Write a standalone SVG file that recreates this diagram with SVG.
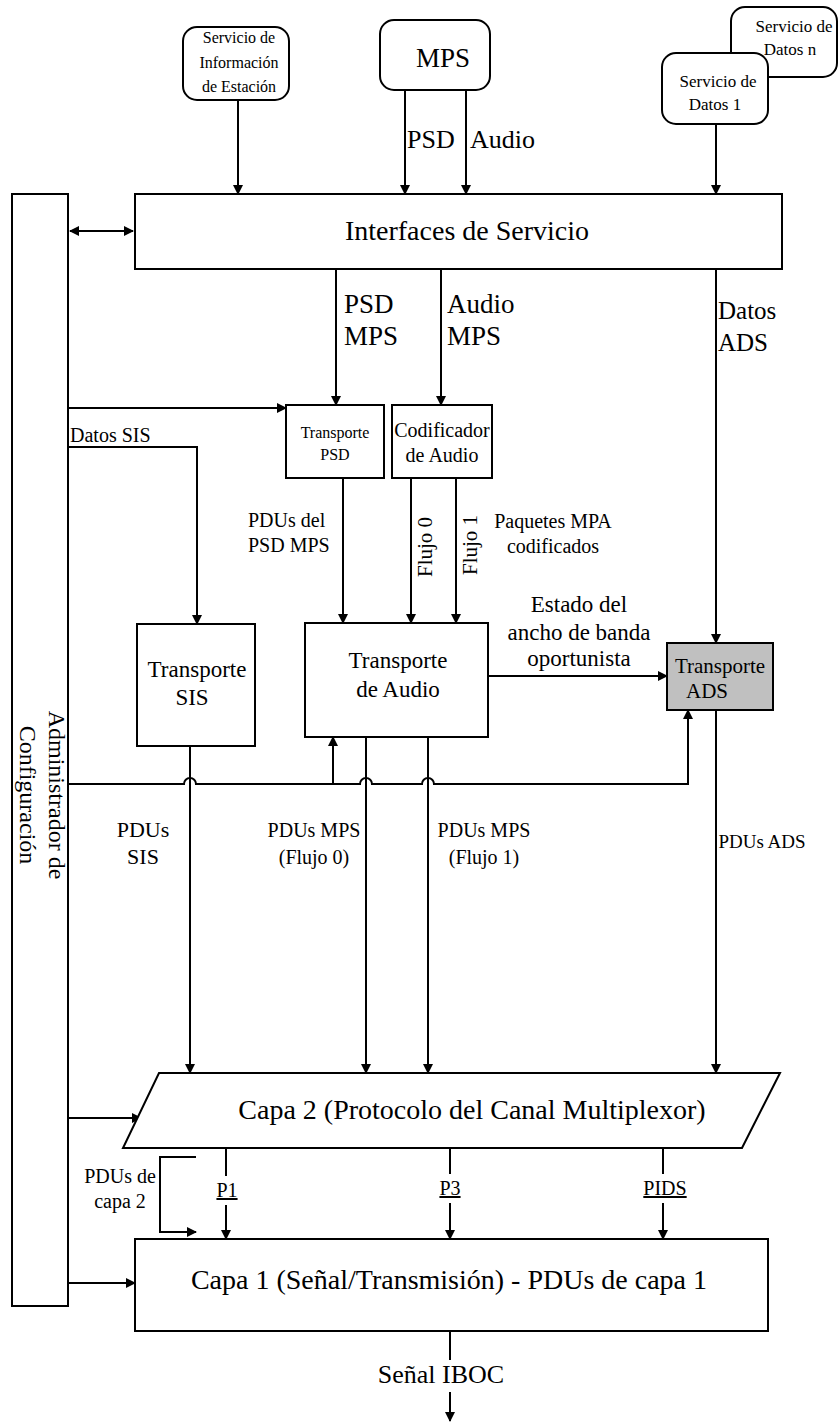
<svg xmlns="http://www.w3.org/2000/svg" width="839" height="1423" viewBox="0 0 839 1423">
<defs>
<marker id="ah" markerWidth="10" markerHeight="10" refX="9" refY="5" orient="auto" markerUnits="userSpaceOnUse"><path d="M0,0 L10,5 L0,10 z" fill="#000"/></marker>
<marker id="ahs" markerWidth="10" markerHeight="10" refX="1" refY="5" orient="auto" markerUnits="userSpaceOnUse"><path d="M10,0 L0,5 L10,10 z" fill="#000"/></marker>
</defs>
<style>
text{font-family:"Liberation Serif","DejaVu Serif",serif;fill:#000}
.box{fill:#fff;stroke:#000;stroke-width:2}
.ln{fill:none;stroke:#000;stroke-width:2}
.ar{fill:none;stroke:#000;stroke-width:2;marker-end:url(#ah)}
.c{text-anchor:middle}
</style>
<rect width="839" height="1423" fill="#fff"/>

<g id="connectors">
<line class="ar" x1="238" y1="100" x2="238" y2="194"/>
<line class="ar" x1="405" y1="90" x2="405" y2="194"/>
<line class="ar" x1="466" y1="90" x2="466" y2="194"/>
<line class="ar" x1="716" y1="124" x2="716" y2="194"/>
<line x1="70" y1="231" x2="133" y2="231" class="ln" marker-start="url(#ahs)" marker-end="url(#ah)"/>
<line class="ar" x1="336" y1="269" x2="336" y2="405"/>
<line class="ar" x1="441" y1="269" x2="441" y2="405"/>
<line class="ar" x1="716" y1="269" x2="716" y2="643"/>
<line class="ar" x1="68" y1="408" x2="286" y2="408"/>
<polyline class="ar" points="68,447 197,447 197,624"/>
<line class="ar" x1="343" y1="478" x2="343" y2="623"/>
<line class="ar" x1="411" y1="478" x2="411" y2="623"/>
<line class="ar" x1="456" y1="478" x2="456" y2="623"/>
<line class="ar" x1="488" y1="676" x2="667" y2="676"/>
<path class="ar" d="M68,784 H184 a6,6 0 0 1 12,0 H360 a6,6 0 0 1 12,0 H422 a6,6 0 0 1 12,0 H688 V710"/>
<line class="ar" x1="333" y1="784" x2="333" y2="737"/>
<line class="ar" x1="190" y1="746" x2="190" y2="1073"/>
<line class="ar" x1="366" y1="737" x2="366" y2="1073"/>
<line class="ar" x1="428" y1="737" x2="428" y2="1073"/>
<line class="ar" x1="716" y1="710" x2="716" y2="1073"/>
<line class="ar" x1="68" y1="1118" x2="141" y2="1118"/>
<line class="ar" x1="68" y1="1283" x2="135" y2="1283"/>
<line class="ln" x1="226" y1="1148" x2="226" y2="1176"/>
<line class="ar" x1="226" y1="1205" x2="226" y2="1239"/>
<line class="ln" x1="450" y1="1148" x2="450" y2="1174"/>
<line class="ar" x1="450" y1="1203" x2="450" y2="1239"/>
<line class="ln" x1="663" y1="1148" x2="663" y2="1174"/>
<line class="ar" x1="663" y1="1203" x2="663" y2="1239"/>
<polyline class="ar" points="196,1157 160,1157 160,1232 196,1232"/>
<line class="ln" x1="450" y1="1331" x2="450" y2="1360"/>
<line class="ar" x1="450" y1="1392" x2="450" y2="1421"/>
</g>

<g id="admin">
<rect class="box" x="12" y="194" width="56" height="1112"/>
<text class="c" font-size="24" transform="translate(49,795) rotate(90)">Administrador de</text>
<text class="c" font-size="24" transform="translate(20,795) rotate(90)">Configuración</text>
</g>

<g id="sis-station">
<rect class="box" x="183" y="27" width="106" height="73" rx="14"/>
<text class="c" font-size="16" x="239" y="43">Servicio de</text>
<text class="c" font-size="16" x="239" y="68">Información</text>
<text class="c" font-size="16" x="239" y="92">de Estación</text>
</g>

<g id="mps">
<rect class="box" x="380" y="20" width="110" height="70" rx="14"/>
<text class="c" font-size="27" x="443" y="67">MPS</text>
</g>

<g id="datos-n">
<rect class="box" x="731" y="7" width="106" height="70" rx="14"/>
<text class="c" font-size="17" x="794" y="32">Servicio de</text>
<text class="c" font-size="17" x="790" y="55">Datos n</text>
</g>

<g id="datos-1">
<rect class="box" x="662" y="53" width="106" height="71" rx="14"/>
<text class="c" font-size="17" x="718" y="87">Servicio de</text>
<text class="c" font-size="17" x="715" y="110">Datos 1</text>
</g>

<g id="interfaces">
<rect class="box" x="135" y="194" width="647" height="75"/>
<text class="c" font-size="28" x="467" y="240">Interfaces de Servicio</text>
</g>

<g id="transporte-psd">
<rect class="box" x="286" y="405" width="98" height="73"/>
<text class="c" font-size="16" x="335" y="438">Transporte</text>
<text class="c" font-size="16" x="335" y="460">PSD</text>
</g>

<g id="codificador">
<rect class="box" x="392" y="405" width="100" height="73"/>
<text class="c" font-size="20" x="442" y="437">Codificador</text>
<text class="c" font-size="20" x="442" y="462">de Audio</text>
</g>

<g id="transporte-sis">
<rect class="box" x="137" y="624" width="118" height="122"/>
<text class="c" font-size="23" x="197" y="677">Transporte</text>
<text class="c" font-size="23" x="192" y="705">SIS</text>
</g>

<g id="transporte-audio">
<rect class="box" x="305" y="623" width="183" height="114"/>
<text class="c" font-size="23" x="398" y="668">Transporte</text>
<text class="c" font-size="23" x="398" y="697">de Audio</text>
</g>

<g id="transporte-ads">
<rect x="667" y="643" width="106" height="67" fill="#c0c0c0" stroke="#000" stroke-width="2"/>
<text class="c" font-size="21" x="720" y="673">Transporte</text>
<text class="c" font-size="21" x="707" y="698">ADS</text>
</g>

<g id="capa2">
<polygon class="box" points="159,1073 780,1073 742,1148 123,1148"/>
<text class="c" font-size="28" x="472" y="1119">Capa 2 (Protocolo del Canal Multiplexor)</text>
</g>

<g id="capa1">
<rect class="box" x="135" y="1239" width="633" height="92"/>
<text class="c" font-size="28" x="449" y="1289">Capa 1 (Señal/Transmisión) - PDUs de capa 1</text>
</g>

<g id="labels">
<text font-size="26" x="407" y="148">PSD</text>
<text font-size="26" x="470" y="148">Audio</text>
<text font-size="27" x="344" y="313">PSD</text>
<text font-size="27" x="344" y="345">MPS</text>
<text font-size="27" x="447" y="313">Audio</text>
<text font-size="27" x="447" y="345">MPS</text>
<text font-size="25" x="718" y="319">Datos</text>
<text font-size="25" x="718" y="351">ADS</text>
<text font-size="20" x="70" y="442">Datos SIS</text>
<text font-size="20" x="248" y="527">PDUs del</text>
<text font-size="20" x="248" y="552">PSD MPS</text>
<text font-size="21" class="c" transform="translate(432,547) rotate(-90)">Flujo 0</text>
<text font-size="21" class="c" transform="translate(477,545) rotate(-90)">Flujo 1</text>
<text font-size="20" class="c" x="553" y="528">Paquetes MPA</text>
<text font-size="20" class="c" x="553" y="553">codificados</text>
<text font-size="23" class="c" x="579" y="612">Estado del</text>
<text font-size="23" class="c" x="579" y="640">ancho de banda</text>
<text font-size="23" class="c" x="579" y="666">oportunista</text>
<text font-size="22" class="c" x="143" y="837">PDUs</text>
<text font-size="22" class="c" x="143" y="864">SIS</text>
<text font-size="20" class="c" x="314" y="837">PDUs MPS</text>
<text font-size="20" class="c" x="314" y="864">(Flujo 0)</text>
<text font-size="20" class="c" x="484" y="837">PDUs MPS</text>
<text font-size="20" class="c" x="484" y="864">(Flujo 1)</text>
<text font-size="19" class="c" x="762" y="848">PDUs ADS</text>
<text font-size="20" class="c" x="120" y="1183">PDUs de</text>
<text font-size="20" class="c" x="120" y="1208">capa 2</text>
<text font-size="20" class="c" x="227" y="1197" text-decoration="underline">P1</text>
<text font-size="20" class="c" x="450" y="1195" text-decoration="underline">P3</text>
<text font-size="20" class="c" x="665" y="1195" text-decoration="underline">PIDS</text>
<text font-size="26" class="c" x="441" y="1383">Señal IBOC</text>
</g>
</svg>
